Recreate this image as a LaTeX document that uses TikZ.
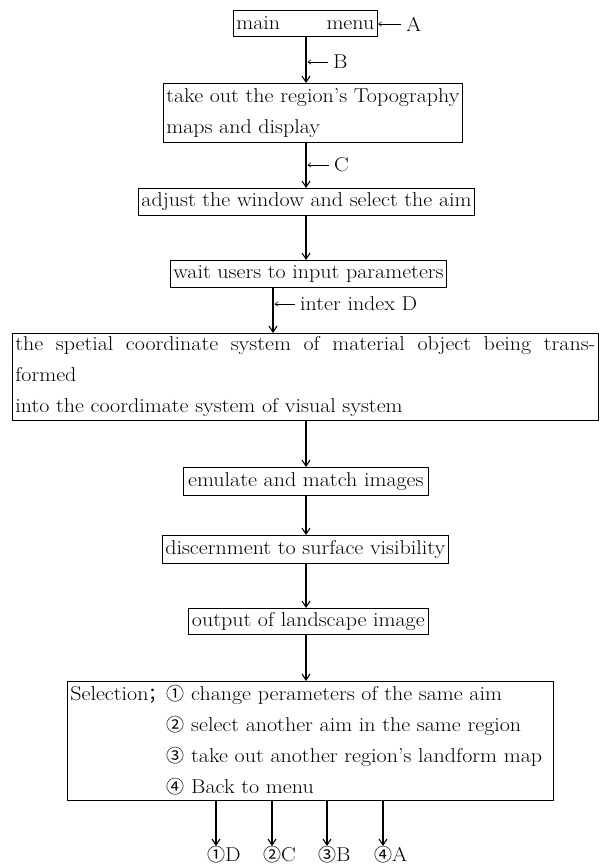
\documentclass[tikz,border=0pt]{standalone}
\usepackage{fontspec}
\setmainfont{Latin Modern Roman}[FakeStretch=1.1]
\newfontfamily\cjk{Noto Sans CJK SC}
\usetikzlibrary{arrows.meta}
\newcommand{\cn}[1]{{\cjk\fontsize{18}{18}\selectfont #1}}
\begin{document}
\begin{tikzpicture}[x=1pt,y=-1pt,
  box/.style={draw, line width=0.7pt, inner xsep=3pt, inner ysep=0pt, font=\fontsize{20}{31}\selectfont},
  flow/.style={line width=1.3pt, -{Straight Barb[length=6pt,width=8pt,line width=1.1pt]}},
  side/.style={line width=0.6pt, -{Straight Barb[length=3pt,width=4.5pt]}},
  lab/.style={inner sep=0pt, font=\fontsize{20}{24}\selectfont}]
\useasboundingbox (0,0) rectangle (609,866);
\fill[white] (0,0) rectangle (609,866);
\coordinate (ax) at (306,0);
\coordinate (dx) at (273,0);
% boxes
\node[box, anchor=north west, minimum height=26pt] (n1) at (233,10) {\makebox[138pt]{main\hfill menu}};
\node[box, anchor=north west, minimum height=59pt, align=left] (n2) at (163,83)
  {take out the region's Topography\\maps and display};
\node[box, anchor=north east, minimum height=27pt] (n3) at (475,188) {adjust the window and select the aim};
\node[box, anchor=north east, minimum height=27pt] (n4) at (447,260) {wait users to input parameters};
\node[box, anchor=north west, minimum height=87pt, text width=580pt, align=justify] (n5) at (12,333)
  {the spetial coordinate system of material object being trans-\linebreak formed\\into the coordimate system of visual system};
\node[box, anchor=north west, minimum height=28pt, minimum width=245pt] (n6) at (183,467) {emulate and match images};
\node[box, anchor=north west, minimum height=28pt] (n7) at (162,535) {discernment to surface visibility};
\node[box, anchor=north west, minimum height=26pt, minimum width=240pt] (n8) at (188,608) {output of landscape image};
\node[box, anchor=north west, minimum height=119pt, text width=480pt, align=left] (n9) at (67,681)
  {Selection\cn{；}\cn{①} change perameters of the same aim\\
   \phantom{Selection\cn{；}}\cn{②} select another aim in the same region\\
   \phantom{Selection\cn{；}}\cn{③} take out another region's landform map\\
   \phantom{Selection\cn{；}}\cn{④} Back to menu};
% main flow
\draw[flow] (n1.south -| ax) -- (n2.north -| ax);
\draw[flow] (n2.south -| ax) -- (n3.north -| ax);
\draw[flow] (n3.south -| ax) -- (n4.north -| ax);
\draw[flow] (n4.south -| dx) -- (n5.north -| dx);
\draw[flow] (n5.south -| ax) -- (n6.north -| ax);
\draw[flow] (n6.south -| ax) -- (n7.north -| ax);
\draw[flow] (n7.south -| ax) -- (n8.north -| ax);
\draw[flow] (n8.south -| ax) -- (n9.north -| ax);
% side labels
\node[lab, anchor=west] (lA) at (406,24) {A};
\coordinate (pA) at (378,24);
\draw[side] (lA.west) ++(-5,0) -- (pA);
\node[lab, anchor=west] (lB) at (333,62) {B};
\coordinate (pB) at (307.5,62);
\draw[side] (lB.west) ++(-5,0) -- (pB);
\node[lab, anchor=west] (lC) at (334,165) {C};
\coordinate (pC) at (307.5,165);
\draw[side] (lC.west) ++(-5,0) -- (pC);
\node[lab, anchor=west] (lD) at (300,304) {inter index D};
\coordinate (pD) at (274.5,304);
\draw[side] (lD.west) ++(-5,0) -- (pD);
% bottom outputs
\coordinate (c1) at (216,0);
\coordinate (c2) at (272,0);
\coordinate (c3) at (327,0);
\coordinate (c4) at (383,0);
\node[lab, anchor=north west] (o1) at (207,846) {\cn{①}D};
\node[lab, anchor=north west] (o2) at (263,846) {\cn{②}C};
\node[lab, anchor=north west] (o3) at (318,846) {\cn{③}B};
\node[lab, anchor=north west] (o4) at (374,846) {\cn{④}A};
\draw[flow] (n9.south -| c1) -- (o1.north -| c1);
\draw[flow] (n9.south -| c2) -- (o2.north -| c2);
\draw[flow] (n9.south -| c3) -- (o3.north -| c3);
\draw[flow] (n9.south -| c4) -- (o4.north -| c4);
\end{tikzpicture}
\end{document}
